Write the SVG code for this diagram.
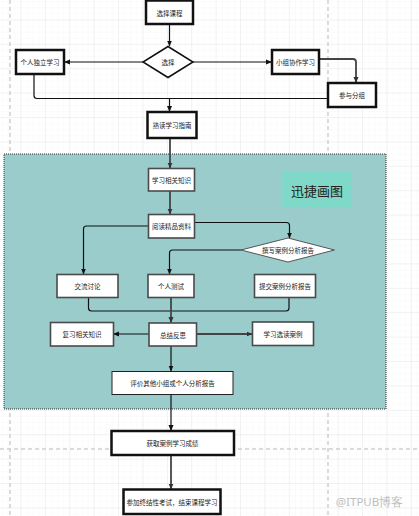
<svg xmlns="http://www.w3.org/2000/svg" width="419" height="516" viewBox="0 0 419 516">
<defs>
<pattern id="minor" patternUnits="userSpaceOnUse" x="-3" y="-4" width="6.1" height="6.1">
<path d="M6.1 0V6.1M0 6.1H6.1" fill="none" stroke="#f4f4f4" stroke-width="0.6"/>
</pattern>
<pattern id="major" patternUnits="userSpaceOnUse" x="-3" y="-4" width="24.4" height="24.4">
<path d="M24.4 0V24.4M0 24.4H24.4" fill="none" stroke="#e4e4e4" stroke-width="0.8"/>
</pattern>
<marker id="arr" markerUnits="userSpaceOnUse" markerWidth="6" markerHeight="6" refX="5.5" refY="3" orient="auto">
<path d="M0,0.5 L6,3 L0,5.5 z" fill="#111"/>
</marker>
<marker id="arrg" markerUnits="userSpaceOnUse" markerWidth="6" markerHeight="6" refX="5.5" refY="3" orient="auto">
<path d="M0,0.5 L6,3 L0,5.5 z" fill="#333"/>
</marker>
</defs>
<style>
.t{font-family:"Noto Sans CJK SC","Noto Sans",sans-serif;font-size:6.5px;fill:#222;text-anchor:middle;dominant-baseline:central}
.thick{fill:#fff;stroke:#111;stroke-width:2.5}
.thin{fill:#fff;stroke:#4a4a4a;stroke-width:1.6}
.c{fill:none;stroke:#111;stroke-width:1.2}
.g{fill:none;stroke:#444;stroke-width:1.8}
.pg{stroke:#cfcfcf;stroke-width:1.5;stroke-dasharray:4 3;fill:none}
</style>
<rect width="419" height="516" fill="#fff"/>
<rect width="419" height="516" fill="url(#minor)"/>
<rect width="419" height="516" fill="url(#major)"/>
<path class="pg" d="M10 0V516M328 0V516M0 449H419"/>
<g id="container">
<rect x="4" y="154" width="382" height="255" fill="#9acccc" stroke="#333" stroke-width="1" stroke-dasharray="1 1"/>
</g>
<g id="connectors">
<path class="c" d="M169.5 24V46" marker-end="url(#arr)"/>
<path class="c" d="M143 62H64.5" marker-end="url(#arr)"/>
<path class="c" d="M193 62H271.5" marker-end="url(#arr)"/>
<path class="g" d="M319 59H353q3 0 3 3V82.5" marker-end="url(#arrg)"/>
<path class="c" d="M34 74V95.5q0 3 3 3H328"/>
<path class="c" d="M169.5 98.5V111.5" marker-end="url(#arr)"/>
<path class="g" d="M170 138V168" marker-end="url(#arrg)"/>
<path class="g" d="M170 191V214" marker-end="url(#arrg)"/>
<path class="c" d="M148 226H86.5q-3 0-3 3V274" marker-end="url(#arr)"/>
<path class="c" d="M194 222.5H286.5q3 0 3 3V238" marker-end="url(#arr)"/>
<path class="c" d="M241 250H172.5q-3 0-3 3V274" marker-end="url(#arr)"/>
<path class="c" d="M88.5 297V308q0 3 3 3H286q3 0 3-3V297"/>
<path class="g" d="M171 297V322.5" marker-end="url(#arrg)"/>
<path class="c" d="M149 334H113.5" marker-end="url(#arr)"/>
<path class="g" d="M197 334H252" marker-end="url(#arrg)"/>
<path class="c" d="M171 346V371" marker-end="url(#arr)"/>
<path class="c" d="M171 394V430.5" marker-end="url(#arr)"/>
<path class="g" d="M171 455V489" marker-end="url(#arrg)"/>
</g>
<g id="n1"><rect class="thick" x="146" y="0.5" width="47" height="23.5"/><text class="t" x="169.5" y="13">选择课程</text></g>
<g id="n2"><path d="M168 46.5L193 62L168 77.5L143 62Z" fill="#fff" stroke="#111" stroke-width="1.5"/><text class="t" x="168" y="62">选择</text></g>
<g id="n3"><rect class="thick" x="16" y="50" width="48" height="24"/><text class="t" x="40" y="62">个人独立学习</text></g>
<g id="n4"><rect class="thick" x="272" y="50" width="47" height="24"/><text class="t" x="295.5" y="62">小组协作学习</text></g>
<g id="n5"><rect class="thick" x="328" y="83" width="48" height="24"/><text class="t" x="352" y="95">参与分组</text></g>
<g id="n6"><rect class="thick" x="147.5" y="112" width="49" height="26"/><text class="t" x="172" y="125">熟读学习指南</text></g>
<g id="label"><rect x="282" y="172" width="70" height="35.5" fill="#80d8c8"/><text x="317" y="190" font-family="Noto Sans CJK SC, sans-serif" font-size="13" fill="#222" text-anchor="middle" dominant-baseline="central">迅捷画图</text></g>
<g id="n7"><rect class="thin" x="148.5" y="168.5" width="46" height="22.5"/><text class="t" x="171.5" y="180">学习相关知识</text></g>
<g id="n8"><rect class="thin" x="148.5" y="214.5" width="46" height="23.5"/><text class="t" x="171.5" y="226">阅读精品资料</text></g>
<g id="n9"><path d="M288 238L334.5 250L288 262L241 250Z" fill="#fff" stroke="#555" stroke-width="1"/><text class="t" x="288" y="250">撰写案例分析报告</text></g>
<g id="n10"><rect class="thin" x="57" y="274.5" width="61" height="23"/><text class="t" x="87.5" y="286">交流讨论</text></g>
<g id="n11"><rect class="thin" x="148" y="274.5" width="46" height="23"/><text class="t" x="171" y="286">个人测试</text></g>
<g id="n12"><rect class="thin" x="254.5" y="274.5" width="61" height="23"/><text class="t" x="285" y="286">提交案例分析报告</text></g>
<g id="n13"><rect class="thin" x="50.5" y="322.5" width="63" height="23.5"/><text class="t" x="82" y="334">复习相关知识</text></g>
<g id="n14"><rect class="thin" x="149" y="323" width="47.5" height="23"/><text class="t" x="173" y="334.5">总结反思</text></g>
<g id="n15"><rect class="thin" x="252.5" y="322" width="61" height="23.5"/><text class="t" x="283" y="334">学习选读案例</text></g>
<g id="n16"><rect x="112" y="371.5" width="121" height="23" fill="#fff" stroke="#222" stroke-width="1"/><text class="t" x="172.5" y="383">评价其他小组或个人分析报告</text></g>
<g id="n17"><rect class="thick" x="111.5" y="431" width="122.5" height="24"/><text class="t" x="172.5" y="443">获取案例学习成绩</text></g>
<g id="n18"><rect class="thick" x="123.5" y="489.5" width="97" height="24.5"/><text class="t" x="172" y="501.5">参加终结性考试，结束课程学习</text></g>
<text x="369.5" y="501" font-family="Noto Sans, sans-serif" font-size="11.5" fill="#bdbdbd" text-anchor="middle" dominant-baseline="central">@ITPUB博客</text>
</svg>
